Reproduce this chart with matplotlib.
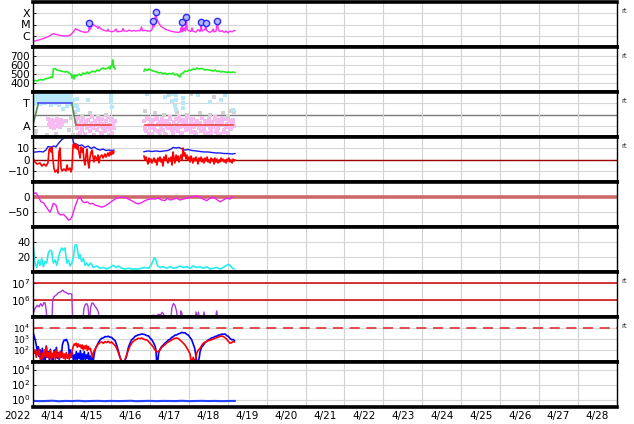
import numpy as np
import matplotlib
matplotlib.use('Agg')
import matplotlib.pyplot as plt
from matplotlib.ticker import NullLocator

plt.rcParams['font.family'] = ['DejaVu Sans']

# ---------------- data (time in hours since 2022-04-14 00:00) ----------------
day_labels = ['4/14', '4/15', '4/16', '4/17', '4/18', '4/19', '4/20', '4/21',
              '4/22', '4/23', '4/24', '4/25', '4/26', '4/27', '4/28']
year_label = '2022'

# Panel 1: X-ray flux (W/m2)
xr_t = [0, 1.8, 4.3, 6.8, 9.2, 11.1, 12.3, 13.6, 15.4, 17.9,
        20.3, 22.8, 24.7, 26.2, 27.7, 29.6, 32.1, 33.9, 34.4, 34.7,
        35.1, 36.1, 37.0, 38.2, 39.5, 40.1, 40.7, 41.9, 43.8, 45.6,
        46.2, 46.9, 48.7, 49.9, 51.2, 51.8, 53.6, 54.9, 55.5, 56.1,
        58.0, 59.2, 60.4, 62.3, 63.5, 64.7, 66.0, 66.9, 67.5, 69.0,
        70.9, 72.7, 73.5, 74.0, 74.6, 75.2, 75.6, 76.4, 77.7, 78.9,
        80.8, 82.6, 84.5, 87.0, 89.4, 90.6, 91.2, 91.6, 92.0, 92.5,
        93.4, 94.0, 94.5, 95.1, 96.2, 97.4, 98.0, 98.6, 100.5, 101.7,
        103.0, 103.3, 103.6, 104.1, 105.1, 106.0, 106.5, 106.9, 107.9, 109.1,
        110.4, 111.0, 111.6, 112.8, 113.6, 114.3, 115.3, 116.5, 117.8, 119.0,
        120.2, 121.4, 122.7, 123.9, 124.5]
xr_v = [3.4e-7, 3.6e-7, 4.5e-7, 6e-7, 8e-7, 1.2e-6, 1.5e-6, 1.4e-6, 1.2e-6, 1.0e-6,
        9.5e-7, 1.1e-6, 2.0e-6, 4.2e-6, 3.3e-6, 2.4e-6, 2.0e-6, 2.2e-6, 3e-6, 1.3e-5,
        3.5e-6, 6e-6, 1.0e-5, 8e-6, 6e-6, 4.5e-6, 6.5e-6, 4e-6, 3e-6, 2.6e-6,
        3.8e-6, 2.5e-6, 2.3e-6, 2.5e-6, 4e-6, 2.3e-6, 2.4e-6, 2.6e-6, 4.5e-6, 2.7e-6,
        2.5e-6, 3.2e-6, 2.6e-6, 2.9e-6, 2.6e-6, 3.0e-6, 2.7e-6, 6e-6, 2.8e-6, 3.0e-6,
        2.6e-6, 2.8e-6, 4e-6, 2e-5, 6e-6, 3e-5, 1.2e-4, 3e-5, 1.2e-5, 7e-6,
        4.5e-6, 3.3e-6, 2.7e-6, 2.2e-6, 2.0e-6, 2.1e-6, 5e-6, 2.2e-6, 1.6e-5, 2.5e-6,
        5e-6, 2.6e-6, 4.9e-5, 3.5e-6, 2.7e-6, 2.4e-6, 5e-6, 2.5e-6, 2.1e-6, 3.5e-6,
        2.4e-6, 3.5e-6, 1.6e-5, 2.6e-6, 3.2e-6, 3.5e-6, 1.3e-5, 3.2e-6, 2.4e-6, 2.0e-6,
        2.6e-6, 4e-6, 2.2e-6, 2.5e-6, 2e-5, 3e-6, 2.4e-6, 2.8e-6, 2.0e-6, 2.6e-6,
        1.8e-6, 2.6e-6, 2.2e-6, 3.0e-6, 2.8e-6]
flare_t = [34.7, 74.0, 75.6, 92.0, 94.5, 103.6, 106.5, 113.6]
flare_v = [1.3e-5, 2e-5, 1.2e-4, 1.6e-5, 4.9e-5, 1.6e-5, 1.3e-5, 2e-5]

# Panel 2: solar wind speed (km/s)
nan = float('nan')
sw_t = [0, 1.2, 2.5, 3.7, 4.9, 6.2, 7.4, 8.6, 9.9, 11.1,
        12.0, 12.6, 13.6, 14.8, 16.0, 17.3, 18.5, 19.7, 21.0, 22.2,
        23.4, 24.0, 24.7, 25.3, 25.9, 27.1, 28.4, 29.6, 30.8, 32.1,
        33.3, 34.5, 35.8, 37.0, 38.2, 39.5, 40.7, 41.9, 43.2, 44.4,
        45.6, 46.9, 47.5, 48.1, 48.7, 49.1, 49.6, 49.9, 50.6, 59.0,
        68.4, 69.0, 70.3, 71.5, 72.7, 74.0, 75.2, 76.4, 77.7, 78.9,
        80.1, 81.4, 82.6, 83.8, 85.1, 86.3, 87.5, 88.8, 90.0, 90.6,
        91.2, 92.5, 93.7, 94.9, 96.2, 97.4, 98.6, 99.9, 101.1, 102.3,
        103.6, 104.8, 106.0, 107.3, 108.5, 109.7, 111.0, 112.2, 113.4, 114.7,
        115.9, 117.1, 118.4, 119.6, 120.8, 122.1, 123.3, 124.5]
sw_v = [417, 428, 422, 433, 439, 433, 444, 450, 456, 467,
        461, 556, 561, 544, 539, 533, 528, 522, 528, 511,
        500, 456, 489, 444, 489, 478, 500, 483, 511, 500,
        522, 506, 522, 533, 522, 544, 533, 556, 567, 556,
        561, 578, 556, 589, 600, 656, 578, 589, 556, nan,
        533, 556, 539, 556, 544, 533, 528, 522, 511, 517,
        500, 511, 494, 506, 500, 511, 489, 500, 472, 467,
        500, 511, 533, 528, 544, 539, 556, 550, 567, 556,
        561, 556, 544, 550, 544, 539, 533, 544, 528, 533,
        522, 528, 522, 517, 522, 517, 522, 517]

# Panel 3: IMF sector (T = +0.5, A = -0.5)
sector_t = [0.2, 3.3, 23.9, 26.5, 48.1]
sector_v = [-0.4, 0.5, 0.5, -0.47, -0.47]
sector2_t = [69.0, 123.1]
sector2_v = [-0.47, -0.47]
lb_t = [0.3, 0.6, 1.0, 1.4, 1.8, 2.2, 2.6, 3.0, 3.4, 3.8, 4.2, 4.6, 5.0, 5.4, 5.8, 6.2,
        6.6, 7.0, 7.4, 7.8, 8.2, 8.6, 9.0, 9.4, 9.8, 10.2, 10.6, 11.0, 11.4, 11.8, 12.2,
        12.6, 13.0, 13.4, 13.8, 14.2, 14.6, 15.0, 15.4, 15.8, 16.2, 16.6, 17.0, 17.4, 17.8,
        18.2, 18.6, 19.0, 19.4, 19.8, 20.2, 20.6, 21.0, 21.4, 21.8, 22.2, 22.6, 23.0, 23.4,
        23.8, 24.3, 24.9, 25.6,
        0.5, 1.6, 2.8, 4.0, 5.2, 6.4, 7.6, 8.8, 10.0, 11.2, 12.4, 13.6, 14.8, 16.0, 17.2,
        18.4, 19.6, 20.8, 22.0, 23.2,
        27.1, 27.4, 27.8, 33.9, 48.1, 48.3, 48.0, 48.4, 70.3, 81.4, 85.7, 85.9, 88.0,
        88.2, 87.8, 88.1, 92.5, 92.7, 92.3, 101.7, 109.1, 115.9, 118.4, 123.3]
lb_v = [0.85, 0.64, 0.93, 0.71, 0.55, 0.88, 0.97, 0.62, 0.76, 0.9, 0.68, 0.84, 0.58, 0.95,
        0.73, 0.87, 0.61, 0.79, 0.92, 0.66, 0.85, 0.7, 0.98, 0.6, 0.81, 0.74, 0.94, 0.57,
        0.89, 0.69, 0.83, 0.63, 0.96, 0.72, 0.86, 0.59, 0.78, 0.91, 0.65, 0.8, 0.75, 0.93,
        0.56, 0.88, 0.68, 0.82, 0.62, 0.95, 0.71, 0.85, 0.6, 0.77, 0.9, 0.66, 0.84, 0.58,
        0.92, 0.7, 0.8, 0.55, 0.45, 0.65, 0.4,
        0.48, 0.78, 0.52, 0.9, 0.45, 0.7, 0.5, 0.86, 0.6, 0.44, 0.72, 0.5, 0.8, 0.42, 0.66,
        0.25, 0.55, 0.38, 0.62, 0.47,
        0.7, 0.4, 0.2, 0.65, 0.9, 0.75, 0.55, 0.35, 0.92, 0.8, 0.9, 0.6, 0.85,
        0.65, 0.4, 0.25, 0.75, 0.5, 0.3, 0.85, 0.55, 0.65, 0.88, 0.2]
pk_t = [9.5, 10.0, 10.6, 11.2, 11.8, 12.3, 12.9, 13.5, 14.1, 14.7, 15.3, 15.9, 16.5, 17.1,
        17.7, 18.3,
        26.3, 26.9, 27.5, 28.1, 28.7, 29.3, 29.9, 30.5, 31.1, 31.7, 32.3, 32.9, 33.5, 34.1,
        34.7, 35.3, 35.9, 36.5, 37.1, 37.7, 38.3, 38.9, 39.5, 40.1, 40.7, 41.3, 41.9, 42.5,
        43.1, 43.7, 44.3, 44.9, 45.5, 46.1, 46.7, 47.3, 47.9, 48.5, 49.1, 49.7, 50.3,
        68.5, 69.2, 69.9, 70.6, 71.3, 72.0, 72.7, 73.4, 74.1, 74.8,
        75.5, 76.2, 76.9, 77.6, 78.3, 79.0, 79.7, 80.4, 81.1, 81.8,
        82.5, 83.2, 83.9, 84.6, 85.3, 86.0, 86.7, 87.4, 88.1, 88.8,
        89.5, 90.2, 90.9, 91.6, 92.3, 93.0, 93.7, 94.4, 95.1, 95.8,
        96.5, 97.2, 97.9, 98.6, 99.3, 100.0, 100.7, 101.4, 102.1, 102.8,
        103.5, 104.2, 104.9, 105.6, 106.3, 107.0, 107.7, 108.4, 109.1, 109.8,
        110.5, 111.2, 111.9, 112.6, 113.3, 114.0, 114.7, 115.4, 116.1, 116.8,
        117.5, 118.2, 118.9, 119.6, 120.3, 121.0, 121.7, 122.4, 123.1, 123.8,
        68.9, 70.3, 71.7, 73.1, 74.5, 75.9, 77.3, 78.7, 80.1, 81.5, 82.9, 84.3, 85.7, 87.1,
        88.5, 89.9, 91.3, 92.7, 94.1, 95.5, 96.9, 98.3, 99.7, 101.1, 102.5, 103.9, 105.3,
        106.7, 108.1, 109.5, 110.9, 112.3, 113.7, 115.1, 116.5, 117.9, 119.3, 120.7, 122.1,
        123.5]
pk_v = [-0.2, -0.45, -0.3, -0.55, -0.25, -0.4, -0.6, -0.3, -0.5, -0.2, -0.45, -0.35, -0.55,
        -0.25, -0.4, -0.3,
        -0.35, -0.62, -0.15, -0.48, -0.8, -0.3, -0.55, -0.7, -0.2, -0.42, -0.85, -0.33, -0.6,
        -0.25, -0.5, -0.75, -0.38, -0.12, -0.58, -0.9, -0.28, -0.45, -0.68, -0.22, -0.52,
        -0.35, -0.8, -0.18, -0.62, -0.4, -0.72, -0.3, -0.55, -0.1, -0.48, -0.66, -0.25, -0.82,
        -0.4, -0.58, -0.3,
        -0.3, -0.55, -0.75, -0.2, -0.45, -0.62, -0.38, -0.85, -0.25, -0.5,
        -0.68, -0.15, -0.42, -0.78, -0.33, -0.58, -0.22, -0.7, -0.48, -0.9,
        -0.28, -0.6, -0.4, -0.12, -0.52, -0.8, -0.35, -0.65, -0.18, -0.45,
        -0.72, -0.3, -0.56, -0.84, -0.25, -0.5, -0.38, -0.7, -0.1, -0.46,
        -0.62, -0.32, -0.78, -0.2, -0.55, -0.42, -0.88, -0.28, -0.6, -0.36,
        -0.74, -0.15, -0.5, -0.66, -0.3, -0.82, -0.44, -0.22, -0.58, -0.7,
        -0.35, -0.52, -0.12, -0.76, -0.4, -0.62, -0.26, -0.86, -0.48, -0.33,
        -0.68, -0.18, -0.55, -0.42, -0.8, -0.3, -0.6, -0.45, -0.25, -0.5,
        -0.65, -0.15, -0.82, -0.4, -0.58, -0.22, -0.75, -0.48, -0.3, -0.86, -0.52, -0.18,
        -0.7, -0.36, -0.6, -0.1, -0.8, -0.44, -0.28, -0.66, -0.5, -0.2, -0.78, -0.38, -0.62,
        -0.14, -0.72, -0.46, -0.32, -0.84, -0.56, -0.24, -0.68, -0.42, -0.16, -0.76, -0.52,
        -0.3, -0.64, -0.4]
gr_t = [0.5, 1.2, 2.0, 8.6, 14.0, 20.5, 22.0, 23.5, 24.8, 26.0, 28.0, 30.5, 32.0, 35.0,
        37.5, 40.0, 42.5, 45.0, 47.0, 49.0, 69.0, 70.0, 72.0, 75.0, 78.0, 81.0, 84.0, 86.0,
        89.0, 92.0, 95.0, 97.5, 100.0, 103.0, 106.0, 109.0, 111.5, 114.0, 117.0, 120.0,
        122.0, 123.5, 124.2]
gr_v = [-0.8, -0.92, -0.75, -0.9, -0.85, -0.3, -0.7, -0.15, -0.9, 0.1, -0.9, -0.05, -0.88,
        0.05, -0.92, -0.1, -0.85, 0.0, -0.9, -0.2, 0.15, 0.9, -0.9, 0.05, -0.92, -0.02, 0.85,
        -0.88, 0.1, -0.9, 0.0, 0.92, -0.85, 0.08, -0.9, 0.0, 0.8, -0.88, 0.05, -0.1, 0.15,
        0.22, 0.1]

# Panel 4: IMF Bt (blue) and Bz (red), nT
bt_t = [0, 1.8, 4.3, 6.2, 8.0, 9.2, 11.1, 12.9, 14.2, 15.4, 16.6, 17.9, 19.1, 20.3, 21.6,
        23.4, 24.4, 25.0, 26.5, 28.4, 30.2, 32.1, 33.9, 35.8, 37.6, 39.5, 41.3, 43.2, 45.0,
        46.9, 48.7, 49.9, 59.0, 68.4, 70.9, 73.3, 75.8, 78.3, 80.8, 83.2, 85.1, 86.3, 88.2,
        90.0, 91.9, 93.7, 95.6, 98.0, 100.5, 103.0, 105.4, 107.9, 110.4, 112.8, 115.3, 117.8,
        120.2, 122.7, 124.5]
bt_v = [6.4, 6.7, 7.1, 6.7, 8.4, 11.4, 11.1, 12, 11.1, 13.8, 15.8, 17.8, 19.1, 20, 20.4,
        20, 19.1, 14.7, 13.8, 12.4, 12.9, 10.7, 12, 9.8, 11.1, 9.3, 8.4, 9.3, 8.0,
        8.4, 8.0, 8.4, nan, 6.9, 7.6, 7.1, 7.6, 7.1, 7.6, 8.0, 9.3, 10.7, 10.2,
        10.7, 9.3, 8.4, 8.9, 8.0, 7.6, 7.1, 6.7, 6.7, 6.2, 5.8, 5.8, 5.3,
        5.3, 4.9, 5.3]
bz_t = [0, 1.2, 2.5, 4.3, 5.5, 6.8, 8.0, 9.2, 9.9, 10.5, 11.1, 11.7, 12.3, 12.9, 13.6,
        14.8, 15.4, 16.0, 16.6, 17.3, 17.9, 19.1, 20.3, 21.0, 21.6, 22.8, 23.4, 24.0, 24.7,
        25.3, 25.9, 26.5, 27.1, 27.7, 28.4, 29.0, 29.6, 30.2, 30.8, 31.4, 32.1, 32.7, 33.3,
        33.9, 34.5, 35.1, 35.8, 36.4, 37.0, 37.6, 38.2, 39.5, 40.1, 40.7, 41.3, 42.5, 43.2,
        44.4, 45.0, 46.2, 46.9, 47.5, 48.1, 48.7, 49.3, 49.9, 59.0,
        68.4, 69.0, 69.7, 70.3, 70.9, 71.5, 72.1, 72.7, 73.3, 74.0, 74.6, 75.2, 75.8, 76.4,
        77.1, 77.7, 78.3, 78.9, 79.5, 80.1, 80.8, 81.4, 82.0, 82.6, 83.2, 83.8, 84.5, 85.1,
        85.7, 86.3, 86.9, 87.5, 88.2, 88.8, 89.4, 90.0, 90.6, 91.2, 91.9, 92.5, 93.1, 93.7,
        94.3, 94.9, 95.6, 96.2, 96.8, 97.4, 98.0, 98.6, 99.2, 99.9, 100.5, 101.1, 101.7,
        102.3, 103.0, 103.6, 104.2, 104.8, 105.4, 106.0, 106.6, 107.3, 107.9, 108.5, 109.1,
        109.7, 110.4, 111.0, 111.6, 112.2, 112.8, 113.4, 114.1, 114.7, 115.3, 115.9, 116.5,
        117.1, 117.8, 118.4, 119.0, 119.6, 120.2, 120.8, 121.4, 122.1, 122.7, 123.3, 123.9,
        124.5]
bz_v = [1.3, -2.2, -4, -3.1, -5.8, -4, -5.8, -3.1, 8.4, 10.2, 6.7, 11.1, -0.4, -7.6, -11.1,
        -9.3, -12, 6.7, 10.2, -7.6, -10.2, -8.4, -10.2, -4.9, -9.3, -7.6, -11.1, -8.4, 12.9,
        13.8, 10.2, 13.8, 9.3, 12, 5.8, 1.3, 11.1, 6.7, 10.2, -0.4, -4.9, 4, 9.3,
        -2.2, -7.6, 1.3, 6.7, 8.4, 2.2, -2.2, 3.1, -0.4, 4, -3.1, 2.2, 4, 1.3,
        4.9, 2.2, 5.8, 3.1, 6.7, 4, 7.6, 4.9, 6.7, nan,
        3.1, -0.4, 2.2, -1.3, -4, 1.3, -2.2, 0.4, -3.1, -0.4, 1.3, -2.2, -0.4, -4.9,
        1.3, -1.3, 2.2, -2.2, 0.4, -5.8, 2.2, -0.4, 4, -1.3, -3.1, 1.3, -1.3, 2.2,
        -4.9, 6.7, 1.3, -3.1, 4, -0.4, 3.1, -2.2, 1.3, 4, -0.4, 10.2, 3.1, 5.8,
        0.4, 4, -0.4, 2.2, -2.2, 3.1, 0.4, -3.1, 1.3, -1.3, 2.2, -0.4, -4,
        1.3, -1.3, 2.2, -2.2, 0.4, -3.1, 1.3, -1.3, 2.2, -2.2, -0.4, -3.1,
        1.3, -1.3, 0.4, -4, 1.3, -2.2, 0.4, -3.1, -0.4, -2.2, 1.3, -1.3,
        0.4, -2.2, -0.4, -3.1, 0.4, -1.3, 1.3, -2.2, -0.4, -3.1, 0.4, -1.3,
        -0.4]

# Panel 5: Dst (nT)
dst_t = [0.2, 1.8, 3.3, 4.9, 6.4, 8.0, 9.4, 10.5, 11.5, 12.5, 14.2, 15.6, 17.1, 18.7, 20.3,
         21.8, 23.2, 24.2, 25.9, 27.9, 29.0, 30.6, 32.1, 33.5, 35.1, 36.8, 38.2, 40.3, 42.4,
         44.4, 46.4, 49.1, 51.6, 54.0, 56.7, 58.8, 60.8, 62.9, 64.9, 67.0, 69.0, 71.1, 73.2,
         75.2, 77.2, 79.3, 81.4, 82.8, 84.5, 86.5, 88.6, 90.6, 92.7, 94.8, 96.8, 98.8, 100.9,
         103.0, 105.0, 107.1, 109.1, 111.2, 113.2, 115.3, 117.3, 119.4, 121.4, 123.1]
dst_v = [12, 14, 1, -16, -19, -32, -43, -51, -38, -21, -27, -54, -60, -58, -66,
         -77, -74, -63, -32, -4, -1, -16, -19, -16, -23, -21, -27, -30, -34,
         -30, -23, -12, -4, -1, -1, -7, -12, -19, -23, -19, -12, -8, -6,
         -7, -4, -10, -12, -4, -10, -7, -4, -10, -7, -4, -1, 1, 4,
         -1, -7, -12, -4, -1, -8, -16, -10, -4, -7, 1]

# Panel 6: AE-like index (cyan)
cy_t = [0.2, 1.2, 2.3, 3.3, 4.3, 5.4, 6.4, 7.4, 8.4, 9.4, 10.5, 11.5, 12.5, 13.6, 14.6, 15.6,
        16.6, 17.7, 18.7, 19.7, 20.8, 21.8, 22.8, 23.9, 24.9, 25.9, 26.9, 27.6, 28.4, 29.0,
        30.0, 31.0, 32.1, 33.1, 34.1, 35.6, 37.2, 39.3, 41.3, 43.4, 45.4, 47.5, 49.5, 51.2,
        52.6, 54.7, 56.7, 58.8, 60.8, 62.9, 64.9, 67.0, 69.0, 71.1, 72.6, 73.8, 74.8, 75.8,
        76.9, 78.3, 80.3, 82.4, 84.5, 86.5, 88.6, 90.6, 92.7, 94.8, 96.8, 98.8, 100.9, 103.0,
        105.0, 107.1, 109.1, 111.2, 113.2, 115.3, 117.3, 119.4, 121.0, 122.5, 123.9]
cy_v = [34, 12, 6, 16, 9, 18, 7, 14, 12, 25, 29, 28, 12, 16, 9, 18, 27, 32, 29, 32,
        12, 16, 8, 12, 20, 36, 36, 27, 18, 23, 14, 18, 9, 12, 8, 12, 6, 8, 5, 6,
        4, 6, 9, 6, 8, 5, 4, 5, 4, 4, 4, 5, 6, 5, 8, 14, 19, 16, 8, 6,
        7, 5, 7, 5, 6, 8, 6, 7, 5, 8, 6, 7, 5, 7, 4, 5, 6, 4, 6, 9,
        10, 6, 4]

# Panel 7: >2 MeV electron flux, log10
pu_t = [0.2, 1.2, 2.6, 3.7, 4.7, 5.7, 6.8, 7.4, 8.0, 8.8, 11.7, 12.1, 12.9, 14.2, 15.6, 17.1,
        18.3, 19.3, 20.8, 21.8, 22.8, 23.9, 24.5, 30.6, 31.4, 32.2, 33.1, 33.9, 34.7, 35.6,
        36.4, 37.2, 38.2, 39.3, 40.3, 40.9, 69.0, 70.5, 71.7, 74.2, 76.3, 77.3, 78.7, 79.7,
        80.3, 81.4, 84.9, 85.5, 86.5, 87.5, 88.6, 89.2, 90.6, 91.2, 91.8, 92.2, 99.9, 100.5,
        101.3, 101.9, 103.0, 104.6, 105.4, 106.2, 112.2, 113.2, 114.3, 122.5, 123.5, 124.4]
pu_log = [5.24, 5.5, 5.7, 5.6, 5.8, 5.64, 5.86, 5.84, 5.5, 4.7, 4.7, 6.0, 6.2, 6.3, 6.44, 6.5,
          6.6, 6.5, 6.44, 6.36, 6.4, 6.36, 4.7, 4.7, 5.5, 5.74, 5.8, 5.64, 4.7, 5.6,
          5.84, 5.8, 5.64, 5.5, 5.3, 4.7, 5.04, 5.08, 5.04, 5.1, 5.08, 5.16, 5.14, 5.28,
          5.2, 4.7, 4.7, 5.5, 5.8, 5.7, 5.3, 4.7, 4.7, 5.36, 5.2, 4.7, 4.7, 5.3,
          4.7, 5.3, 4.7, 4.7, 5.3, 4.7, 4.7, 5.36, 4.7, 4.7, 5.06, 4.7]

# Panel 8: particle flux, log10 (blue / red)
p8_t = [0.2, 0.8, 1.4, 2.0, 2.7, 3.3, 3.9, 4.5, 5.1, 5.8, 6.4, 7.0, 7.6, 8.2, 8.8, 9.5, 10.1,
        10.7, 11.3, 11.9, 12.5, 13.2, 13.8, 14.4, 15.0, 15.6, 16.2, 16.9, 17.5, 18.1, 18.7,
        19.3, 19.9, 20.5, 21.2, 21.8, 22.4, 23.0, 23.6, 24.2, 24.9, 25.5, 26.1, 26.7, 27.3,
        27.9, 28.6, 29.2, 29.8, 30.4, 31.0, 31.6, 32.3, 32.9, 33.5, 34.1, 34.7, 35.3, 36.0,
        36.6, 37.2]
p8b_early = [3.52, 3.21, 2.91, 2.45, 1.85, 2.30, 1.39, 2.0, 1.24, 2.15, 1.09, 1.70, 1.15, 2.36,
             1.33, 1.85, 1.09, 2.06, 1.21, 1.64, 1.09, 2.0, 1.45, 2.24, 1.24, 1.76, 1.09,
             1.88, 1.39, 2.45, 2.76, 2.91, 2.85, 2.97, 2.76, 2.45, 1.55, 2.0, 1.33, 1.76,
             1.09, 1.55, 1.15, 1.85, 1.09, 1.70, 1.21, 1.94, 1.09, 1.64, 1.15, 1.85, 1.09,
             1.55, 1.21, 1.76, 1.09, 1.45, 1.09, 1.33, 1.09]
p8r_early = [2.15, 1.70, 2.0, 1.33, 1.85, 1.55, 2.06, 1.15, 1.09, 1.70, 1.24, 2.0, 1.45, 2.30,
             1.33, 1.76, 1.24, 1.94, 1.15, 1.70, 1.33, 1.85, 1.15, 2.0, 1.39, 1.70, 1.21,
             1.85, 1.33, 1.76, 1.24, 1.64, 1.15, 1.76, 1.24, 1.55, 1.15, 1.70, 1.33, 2.0,
             2.36, 2.55, 2.45, 2.61, 2.24, 2.55, 2.30, 2.45, 2.15, 2.45, 2.0, 2.36, 2.12,
             2.42, 1.94, 2.30, 2.06, 2.15, 1.70, 1.33, 1.76]
p8b_t = [38.2, 39.3, 40.3, 41.3, 42.3, 43.4, 44.4, 45.4, 46.4, 47.5, 48.5, 49.5, 50.5, 51.6,
         52.6, 53.6, 54.7, 55.7, 56.7, 57.7, 58.8, 59.8, 60.8, 61.9, 62.9, 63.9, 64.9, 66.0,
         67.0, 68.0, 69.0, 70.1, 71.1, 72.1, 73.2, 74.2, 75.2, 75.8, 76.2, 76.9, 77.5, 78.3,
         79.3, 80.4, 81.4, 82.4, 83.4, 84.5, 85.5, 86.5, 87.5, 88.6, 89.6, 90.6, 91.7, 92.7,
         93.7, 94.7, 95.8, 96.8, 97.8, 98.8, 99.7, 100.3, 100.9, 101.9, 102.5, 103.0, 104.0,
         105.0, 106.0, 107.1, 108.1, 109.1, 110.2, 111.2, 112.2, 113.2, 114.3, 115.3, 116.3,
         117.3, 118.4, 119.4, 120.4, 121.5, 122.5, 123.5, 124.1]
p8b_log = [2.0, 2.36, 2.67, 2.91, 3.06, 3.1, 3.22, 3.2, 3.25, 3.16, 3.14, 2.98, 2.87, 2.45,
           1.94, 1.33, 0.94, 0.94, 1.09, 1.45, 2.24, 2.61, 2.93, 3.06, 3.24, 3.3, 3.38, 3.4,
           3.45, 3.42, 3.4, 3.3, 3.29, 3.1, 2.93, 2.68, 2.36, 2.0, 0.94, 0.94, 1.76, 2.06,
           2.32, 2.46, 2.63, 2.74, 2.9, 2.98, 3.14, 3.22, 3.35, 3.37, 3.47, 3.5, 3.6, 3.56,
           3.57, 3.43, 3.35, 3.13, 2.93, 2.53, 2.15, 1.55, 0.94, 0.94, 1.33, 1.85, 2.26,
           2.43, 2.66, 2.77, 2.93, 2.98, 3.11, 3.13, 3.23, 3.25, 3.35, 3.37, 3.44, 3.43,
           3.45, 3.31, 3.23, 3.04, 2.93, 2.95, 2.85]
p8r_t = [38.2, 39.3, 40.3, 41.3, 42.3, 43.4, 44.4, 45.4, 46.4, 47.5, 48.5, 49.5, 50.5, 51.6,
         52.6, 53.6, 54.7, 55.7, 56.7, 57.7, 58.8, 59.8, 60.8, 61.9, 62.9, 63.9, 64.9, 66.0,
         67.0, 68.0, 69.0, 70.1, 71.1, 72.1, 73.2, 74.2, 75.2, 76.2, 77.2, 78.3, 79.3, 80.4,
         81.4, 82.4, 83.4, 84.5, 85.5, 86.5, 87.5, 88.6, 89.6, 90.6, 91.7, 92.7, 93.7, 94.7,
         95.8, 96.8, 97.4, 98.0, 98.8, 99.4, 100.2, 100.9, 101.9, 103.0, 104.0, 105.0, 106.0,
         107.1, 108.1, 109.1, 110.2, 111.2, 112.2, 113.2, 114.3, 115.3, 116.3, 117.3, 118.4,
         119.4, 120.4, 121.5, 122.5, 123.5, 124.1]
p8r_log = [2.06, 2.36, 2.55, 2.67, 2.73, 2.61, 2.76, 2.67, 2.79, 2.64, 2.73, 2.55, 2.42, 2.15,
           1.76, 1.33, 0.94, 0.94, 1.03, 1.55, 2.0, 2.36, 2.61, 2.79, 2.91, 2.97, 3.06, 3.03,
           3.09, 3.0, 2.94, 2.91, 2.79, 2.61, 2.45, 2.24, 2.0, 1.85, 1.82, 2.0, 2.24, 2.36,
           2.48, 2.64, 2.73, 2.82, 2.91, 3.0, 3.06, 3.09, 3.03, 2.91, 2.76, 2.61, 2.45, 2.21,
           1.94, 1.64, 1.09, 0.94, 1.33, 0.94, 1.15, 1.70, 2.0, 2.15, 2.42, 2.61, 2.70,
           2.79, 2.85, 2.88, 2.94, 3.0, 3.06, 3.12, 3.18, 3.24, 3.27, 3.21, 3.12,
           2.97, 2.79, 2.61, 2.67, 2.79, 2.73]

# Panel 9: flux near 1, log10
p9_t = [0.2, 4, 8, 12, 16, 20, 24, 28, 32, 36, 40, 44, 48, 52, 56, 60, 64, 68, 72, 76, 80,
        84, 88, 92, 96, 100, 104, 108, 112, 116, 120, 124.4]
p9_log = [-0.18, -0.22, -0.2, -0.16, -0.24, -0.19, -0.21, -0.17, -0.23, -0.2, -0.18, -0.22,
          -0.19, -0.21, -0.2, -0.17, -0.23, -0.2, -0.18, -0.22, -0.19, -0.2, -0.21, -0.17,
          -0.22, -0.2, -0.18, -0.21, -0.19, -0.22, -0.2, -0.19]

# ---------------- figure ----------------
W, H = 634, 424
fig = plt.figure(figsize=(W / 100, H / 100), dpi=100)
LEFT, RIGHT, TOP, PH = 33, 617, 2, 45
axes = []
for i in range(9):
    top = TOP + PH * i
    ax = fig.add_axes([LEFT / W, 1 - (top + PH) / H, (RIGHT - LEFT) / W, PH / H])
    ax.set_xlim(0, 360)
    ax.set_xticks(np.arange(0, 361, 24))
    ax.set_xticks(np.arange(12, 360, 24), minor=True)
    ax.tick_params(axis='x', which='both', length=0, labelbottom=False)
    ax.tick_params(axis='y', which='major', direction='in', length=2, width=0.6,
                   labelsize=7.5, pad=2)
    ax.tick_params(axis='y', which='minor', length=0)
    ax.grid(True, axis='x', which='major', color='#d2d2d2', lw=0.8, zorder=0)
    ax.grid(True, axis='y', which='major', color='#d6d6d6', lw=0.8, zorder=0)
    for s in ('top', 'bottom'):
        ax.spines[s].set_linewidth(2.6)
    for s in ('left', 'right'):
        ax.spines[s].set_linewidth(1.0)
    for s in ax.spines.values():
        s.set_zorder(10)
    axes.append(ax)

def rt(ax):
    ax.text(1.007, 0.80, 'rt', transform=ax.transAxes, fontsize=5, color='#333333',
            ha='left', va='center')

# 1: X-ray
ax = axes[0]
ax.set_yscale('log')
ax.set_ylim(1e-7, 1e-3)
ax.set_yticks([1e-6, 1e-5, 1e-4])
ax.set_yticklabels(['C', 'M', 'X'], fontsize=8)
ax.yaxis.set_minor_locator(NullLocator())
ax.plot(xr_t, xr_v, color='#ff30f0', lw=1.0, zorder=3)
ax.plot(flare_t, flare_v, 'o', ms=4.5, mfc='#b8b8ff', mec='#2a2aff', mew=1.0, zorder=4)
rt(ax)

# 2: speed
ax = axes[1]
ax.set_ylim(300, 800)
ax.set_yticks([400, 500, 600, 700])
ax.plot(sw_t, sw_v, color='#22ee22', lw=1.2, zorder=3)
rt(ax)

# 3: sector
ax = axes[2]
ax.set_ylim(-1, 1)
ax.set_yticks([0.5, -0.5])
ax.set_yticklabels(['T', 'A'], fontsize=8)
ax.axhline(0, color='#7a7a7a', lw=1.0, zorder=1)
ax.scatter(gr_t, gr_v, s=6, marker='s', color='#d2d2d2', lw=0, zorder=2)
ax.scatter(lb_t, lb_v, s=6, marker='s', color='#b6e8fa', lw=0, zorder=2)
ax.scatter(pk_t, pk_v, s=7, marker='s', color='#f6bcf2', lw=0, zorder=2)
for k in range(len(sector_t) - 1):
    t0, t1 = sector_t[k], sector_t[k + 1]
    v0, v1 = sector_v[k], sector_v[k + 1]
    if v0 == v1:
        c = '#4a4aee' if v0 > 0 else '#ee4444'
    else:
        c = '#5a8a5a'
    ax.plot([t0, t1], [v0, v1], color=c, lw=1.2, zorder=3)
ax.plot(sector2_t, sector2_v, color='#ee4444', lw=1.2, zorder=3)
rt(ax)

# 4: Bt / Bz
ax = axes[3]
ax.set_ylim(-20, 20)
ax.set_yticks([10, 0, -10])
ax.set_yticklabels(['10', '0', '\u221210'])
ax.axhline(0, color='#990000', lw=1.0, zorder=2)
ax.plot(bt_t, bt_v, color='#1a1aee', lw=1.0, zorder=3)
ax.plot(bz_t, bz_v, color='#ff0000', lw=1.2, zorder=4)
rt(ax)

# 5: Dst
ax = axes[4]
ax.set_ylim(-100, 50)
ax.set_yticks([0, -50])
ax.set_yticklabels(['0', '\u221250'])
ax.axhline(0, color='#cc6a6a', lw=2.6, zorder=2)
ax.plot(dst_t, dst_v, color='#ee22ee', lw=1.0, zorder=3)

# 6: cyan index
ax = axes[5]
ax.set_ylim(0, 60)
ax.set_yticks([40, 20])
ax.plot(cy_t, cy_v, color='#22eeee', lw=1.2, zorder=3)

# 7: electron flux
ax = axes[6]
ax.set_yscale('log')
ax.set_ylim(1e5, 10 ** 7.68)
ax.set_yticks([1e7, 1e6])
ax.set_yticklabels(['$10^7$', '$10^6$'])
ax.yaxis.set_minor_locator(NullLocator())
ax.axhline(1e7, color='#cc0000', lw=1.1, zorder=2)
ax.axhline(1e6, color='#cc0000', lw=1.1, zorder=2)
ax.plot(pu_t, 10 ** np.array(pu_log), color='#a838d8', lw=1.0, zorder=3)
rt(ax)

# 8: particle flux
ax = axes[7]
ax.set_yscale('log')
ax.set_ylim(8, 1e5)
ax.set_yticks([1e4, 1e3, 1e2])
ax.set_yticklabels(['$10^4$', '$10^3$', '$10^2$'], fontsize=6.6)
ax.yaxis.set_minor_locator(NullLocator())
ax.axhline(1e4, color='#dd3333', lw=1.2, ls=(0, (6, 4)), zorder=2)
ax.plot(p8_t + p8b_t, 10 ** np.array(p8b_early + p8b_log), color='#0000ff', lw=1.2, zorder=3)
ax.plot(p8_t + p8r_t, 10 ** np.array(p8r_early + p8r_log), color='#ff0000', lw=1.2, zorder=4)
rt(ax)

# 9: low flux
ax = axes[8]
ax.set_yscale('log')
ax.set_ylim(0.1, 1e5)
ax.set_yticks([1e4, 1e2, 1e0])
ax.set_yticklabels(['$10^4$', '$10^2$', '$10^0$'])
ax.yaxis.set_minor_locator(NullLocator())
ax.plot(p9_t, 10 ** np.array(p9_log), color='#2244ff', lw=1.5, zorder=3)

# bottom date labels
ax = axes[8]
ax.set_xticks(np.arange(12, 360, 24), minor=True)
ax.set_xticklabels(day_labels, minor=True)
ax.tick_params(axis='x', which='minor', labelbottom=True, labelsize=7.5, pad=3, length=0)
fig.text(17 / W, 1 - 416 / H, year_label, fontsize=7.5, ha='center', va='center')

fig.savefig('out.png', dpi=100)
